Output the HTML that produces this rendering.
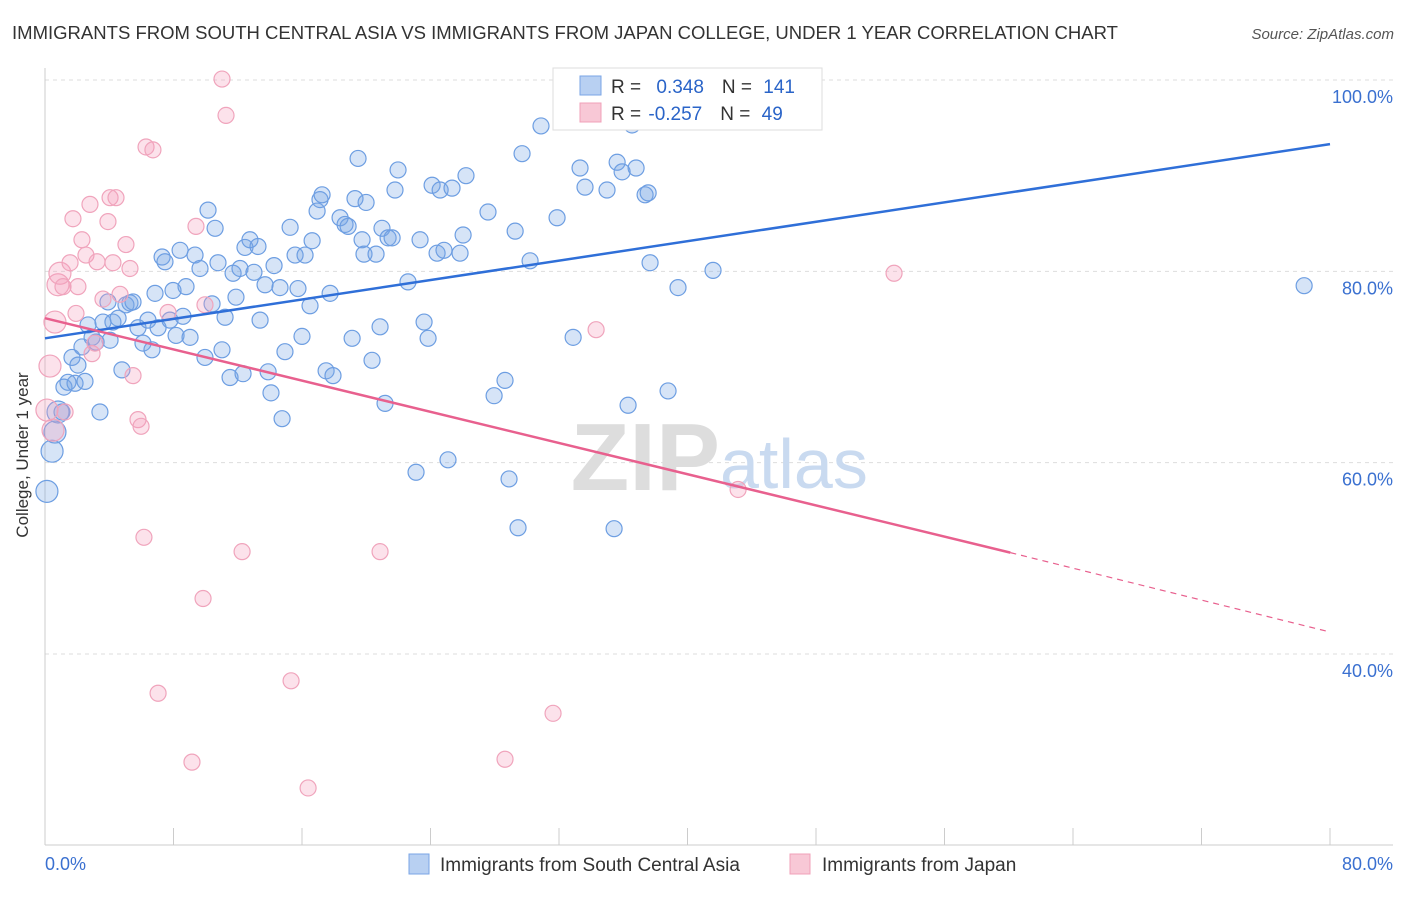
<!DOCTYPE html>
<html><head><meta charset="utf-8"><style>
body{margin:0;background:#fff;font-family:"Liberation Sans",sans-serif}
svg text{font-family:"Liberation Sans",sans-serif}
</style></head><body>
<svg id="chart" width="1406" height="892" viewBox="0 0 1406 892">
<text x="12" y="39" font-size="18" fill="#333" textLength="1106" lengthAdjust="spacingAndGlyphs">IMMIGRANTS FROM SOUTH CENTRAL ASIA VS IMMIGRANTS FROM JAPAN COLLEGE, UNDER 1 YEAR CORRELATION CHART</text>
<text x="1394" y="39" font-size="15" fill="#555" font-style="italic" text-anchor="end">Source: ZipAtlas.com</text>
<g id="grid"></g>
<text x="720" y="490" font-size="96" font-family="Liberation Serif" fill="#ddd" text-anchor="end" font-weight="bold">ZIP</text>
<text x="720" y="488" font-size="70" fill="#c9daf0">atlas</text>
<g id="pts"></g>
<g id="trends"></g>
<g>
<rect x="553" y="68" width="269" height="62" fill="#fff" stroke="#ddd"/>
<rect x="580" y="76" width="21" height="19" fill="#b8d0f2" stroke="#7aa5e6"/>
<rect x="580" y="103" width="21" height="19" fill="#f8c8d6" stroke="#f0a0b8"/>
<text x="611" y="93" font-size="19" fill="#333">R = <tspan fill="#2a64c8" dx="10">0.348</tspan><tspan dx="18">N = </tspan><tspan fill="#2a64c8" dx="6">141</tspan></text>
<text x="611" y="120" font-size="19" fill="#333">R = <tspan fill="#2a64c8" dx="2">-0.257</tspan><tspan dx="18">N = </tspan><tspan fill="#2a64c8" dx="6">49</tspan></text>
</g>
<text x="28" y="455" font-size="17" fill="#333" text-anchor="middle" transform="rotate(-90 28 455)">College, Under 1 year</text>
<g>
<rect x="409" y="854" width="20" height="20" fill="#b8d0f2" stroke="#7aa5e6"/>
<text x="440" y="871" font-size="19" fill="#333">Immigrants from South Central Asia</text>
<rect x="790" y="854" width="20" height="20" fill="#f8c8d6" stroke="#f0a0b8"/>
<text x="822" y="871" font-size="19" fill="#333">Immigrants from Japan</text>
</g>
</svg>
<script>
const yTicks=[40,60,80,100];
const xTickLabels=["0.0%","80.0%"];
const blueX=[0.12,0.44,0.62,0.81,1.06,1.18,1.43,1.68,1.87,2.05,2.30,2.49,2.68,2.93,3.18,3.42,3.61,3.92,4.05,4.23,4.55,4.79,5.04,5.29,5.48,5.79,6.10,6.41,6.66,6.85,7.04,7.29,7.47,7.78,7.97,8.16,8.41,8.59,8.78,9.03,9.34,9.65,9.96,10.15,10.40,10.59,10.77,11.02,11.21,11.52,11.71,11.89,12.14,12.33,12.45,12.76,13.01,13.26,13.39,13.70,13.89,14.07,14.26,14.63,14.76,14.94,15.26,15.57,15.75,16.00,16.19,16.50,16.63,16.94,17.12,17.25,17.50,17.75,17.93,18.37,18.68,18.87,19.12,19.30,19.49,19.74,19.86,19.99,20.36,20.61,20.86,20.98,21.17,21.36,21.61,21.79,21.98,22.60,23.10,23.35,23.60,23.85,24.10,24.41,24.60,24.84,25.09,25.34,25.84,26.03,26.21,27.58,27.96,28.64,28.89,29.27,29.45,30.20,30.88,29.70,31.88,32.88,33.31,33.62,34.99,35.43,35.62,35.93,36.30,36.55,36.80,37.36,37.55,37.67,38.79,39.41,41.59,78.39];
const blueY=[57.0,61.2,63.2,65.3,65.3,67.9,68.4,71.0,68.3,70.2,72.1,68.5,74.4,73.1,72.6,65.3,74.7,76.8,72.8,74.7,75.1,69.7,76.5,76.7,76.8,74.1,72.5,74.9,71.8,77.7,74.1,81.5,81.0,74.9,78.0,73.3,82.2,75.3,78.4,73.1,81.7,80.3,71.0,86.4,76.6,84.5,80.9,71.8,75.2,68.9,79.8,77.3,80.3,69.3,82.5,83.3,79.9,82.6,74.9,78.6,69.5,67.3,80.6,78.3,64.6,71.6,84.6,81.7,78.2,73.2,81.7,76.4,83.2,86.3,87.5,88.0,69.6,77.7,69.1,85.6,84.9,84.7,73.0,87.6,91.8,83.3,81.8,87.2,70.7,81.8,74.2,84.5,66.2,83.5,83.5,88.5,90.6,78.9,59.0,83.3,74.7,73.0,89.0,81.9,88.5,82.2,60.3,88.7,81.9,83.8,90.0,86.2,67.0,68.6,58.3,84.2,53.2,81.1,95.2,92.3,85.6,73.1,90.8,88.8,88.5,53.1,91.4,90.4,66.0,95.3,90.8,88.0,88.2,80.9,67.5,78.3,80.1,78.5];
const pinkX=[0.12,0.31,0.50,0.62,0.81,0.93,1.12,1.25,1.56,1.74,1.93,2.05,2.30,2.55,2.80,2.93,3.11,3.24,3.61,3.92,4.05,4.23,4.42,4.67,5.04,5.29,5.48,5.79,5.98,6.16,6.29,6.72,7.04,7.66,9.15,9.40,9.84,9.96,11.02,11.27,12.27,15.32,16.38,20.86,28.64,31.63,34.31,43.15,52.86];
const pinkY=[65.5,70.1,63.4,74.7,78.6,79.8,78.4,65.3,80.9,85.5,75.6,78.4,83.3,81.7,87.0,71.4,72.5,81.0,77.1,85.2,87.7,80.9,87.7,77.6,82.8,80.3,69.1,64.5,63.8,52.2,93.0,92.7,35.9,75.7,28.7,84.7,45.8,76.5,100.1,96.3,50.7,37.2,26.0,50.7,29.0,33.8,73.9,57.2,79.8];
const blueTrend=[[0,73.0],[80,93.3]];
const pinkTrend=[[0,75.1],[60.1,50.6],[80,42.3]];
const NS="http://www.w3.org/2000/svg";
const X=v=>45+v/80*1285, Y=v=>80+(100-v)*9.567;
function mk(t,a,p){const e=document.createElementNS(NS,t);for(const k in a)e.setAttribute(k,a[k]);p.appendChild(e);return e;}
const g=document.getElementById('grid');
yTicks.forEach(t=>{
 const l=mk('line',{x1:45,x2:1393,y1:Y(t),y2:Y(t),stroke:'#ddd','stroke-dasharray':'4,4'},g);
 
 
 const tx=mk('text',{x:1393,y:Y(t)+23,'font-size':18,fill:'#3a70d0','text-anchor':'end'},g);
 tx.textContent=t.toFixed(1)+'%';
 
 
});
mk('line',{x1:45,x2:45,y1:68,y2:845,stroke:'#ccc'},g);
mk('line',{x1:45,x2:1393,y1:845,y2:845,stroke:'#ccc'},g);
for(let i=0;i<=10;i++){const tk=mk('line',{x1:X(i*8),x2:X(i*8),y1:828,y2:845,stroke:'#ccc'},g);
 
 }
const xl0=mk('text',{x:45,y:870,'font-size':18,fill:'#3a70d0'},g);xl0.textContent=xTickLabels[0];


const xl1=mk('text',{x:1393,y:870,'font-size':18,fill:'#3a70d0','text-anchor':'end'},g);xl1.textContent=xTickLabels[1];


const p=document.getElementById('pts');
blueX.forEach((x,i)=>{const r=x<1?11:8;
 const c=mk('circle',{cx:X(x),cy:Y(blueY[i]),r:r,fill:'rgba(120,165,230,0.3)',stroke:'#6d9ee2','stroke-width':1.2},p);
 
 });
pinkX.forEach((x,i)=>{const r=x<1?11:8;
 const c=mk('circle',{cx:X(x),cy:Y(pinkY[i]),r:r,fill:'rgba(245,160,190,0.3)',stroke:'#f0a4bc','stroke-width':1.2},p);
 
 });
const tr=document.getElementById('trends');
const bl=mk('line',{x1:X(blueTrend[0][0]),y1:Y(blueTrend[0][1]),x2:X(blueTrend[1][0]),y2:Y(blueTrend[1][1]),stroke:'#2f6fd8','stroke-width':2.5},tr);


const pl=mk('line',{x1:X(pinkTrend[0][0]),y1:Y(pinkTrend[0][1]),x2:X(pinkTrend[1][0]),y2:Y(pinkTrend[1][1]),stroke:'#e8608e','stroke-width':2.5},tr);


const pd=mk('line',{x1:X(pinkTrend[1][0]),y1:Y(pinkTrend[1][1]),x2:X(pinkTrend[2][0]),y2:Y(pinkTrend[2][1]),stroke:'#e8608e','stroke-width':1.2,'stroke-dasharray':'6,5'},tr);


</script>
</body></html>
